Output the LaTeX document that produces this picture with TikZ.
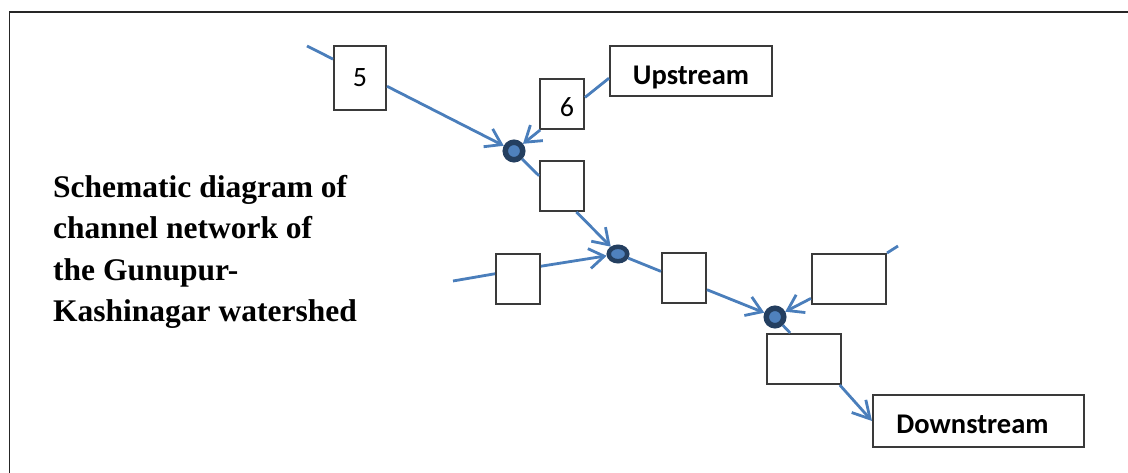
\documentclass[tikz,border=0pt]{standalone}
\usepackage{fontspec}
\setmainfont{Liberation Serif}
\newfontfamily\calfont{Carlito}
\usetikzlibrary{arrows.meta,shapes.geometric}
\definecolor{lineblue}{HTML}{4A7EBB}
\definecolor{nodefill}{HTML}{4F81BD}
\definecolor{ringblue}{HTML}{243F60}
\definecolor{boxgray}{HTML}{3A3A3A}
\begin{document}
\begin{tikzpicture}[x=1pt,y=-1pt,
  flow/.style={draw=lineblue,line width=2.8pt},
  inflow/.style={flow,-{Straight Barb[length=15pt,width=20pt]}},
  junction/.style={circle,draw=ringblue,fill=nodefill,line width=5.5pt,inner sep=0pt,minimum size=17.5pt},
  junctionE/.style={ellipse,draw=ringblue,fill=nodefill,line width=4.5pt,inner sep=0pt,minimum width=18.5pt,minimum height=14.5pt},
  tbox/.style={draw=boxgray,line width=2pt,fill=white,inner sep=0pt,font=\calfont\fontsize{28}{30}\selectfont},
  endbox/.style={tbox,font=\calfont\bfseries\fontsize{28.5}{30}\selectfont,text depth=0pt}
]
\useasboundingbox (0,0) rectangle (1128,473);
\draw[line width=1.3pt,black!85] (9.5,12) rectangle (1140,490);

% title (anchor base = baseline of the last line)
\node[anchor=base west,align=left,inner sep=0pt,
  font=\bfseries\fontsize{31.5}{41.5}\selectfont] (title) at (53,321.5)
  {Schematic diagram of\\channel network of\\the Gunupur-\\Kashinagar watershed};

% boxes
\node[tbox,minimum width=52pt,minimum height=64pt] (box5) at (360,78) {5};
\node[tbox,minimum width=44pt,minimum height=50pt,text height=26pt,text depth=0pt] (box6) at (562,104) {\hspace*{10pt}6};
\node[endbox,minimum width=162pt,minimum height=50pt,text height=28pt] (up) at (691,71) {Upstream};
\node[tbox,minimum width=44pt,minimum height=50pt] (box7) at (562,186) {};
\node[tbox,minimum width=44pt,minimum height=50pt] (boxL) at (518,279.5) {};
\node[tbox,minimum width=44pt,minimum height=50pt] (box9) at (684,278) {};
\node[tbox,minimum width=74pt,minimum height=50pt] (box10) at (849,279) {};
\node[tbox,minimum width=74pt,minimum height=50pt] (box11) at (804,359) {};
\node[endbox,minimum width=211pt,minimum height=52pt,text height=24pt] (down) at (978.5,421) {Downstream\hspace*{12pt}};

% junctions
\node[junction] (n1) at (514,151) {};
\node[junctionE] (n2) at (618,254) {};
\node[junction] (n3) at (775,317) {};

% free ends
\coordinate (s5) at (307,46);
\coordinate (sL) at (453,281);
\coordinate (s10) at (898,246);

% connectors
\draw[flow] (s5) -- (box5.145);
\draw[inflow] (box5.343) -- (n1);
\draw[flow] (up.185) -- (box6.16);
\draw[inflow] (box6.230) -- (n1);
\draw[flow] (n1) -- (box7.156);
\draw[inflow] (box7.299) -- (n2);
\draw[flow] (sL) -- (boxL.166);
\draw[inflow] (boxL.30) -- (n2);
\draw[flow] (n2) -- (box9.164);
\draw[inflow] (box9.333) -- (n3);
\draw[flow] (s10) -- (box10.north east);
\draw[inflow] (box10.207) -- (n3);
\draw[flow] (n3) -- (box11.118);
\draw[flow,-{Straight Barb[length=17pt,width=19pt]}] (box11.324) -- (down.west);
\end{tikzpicture}
\end{document}
